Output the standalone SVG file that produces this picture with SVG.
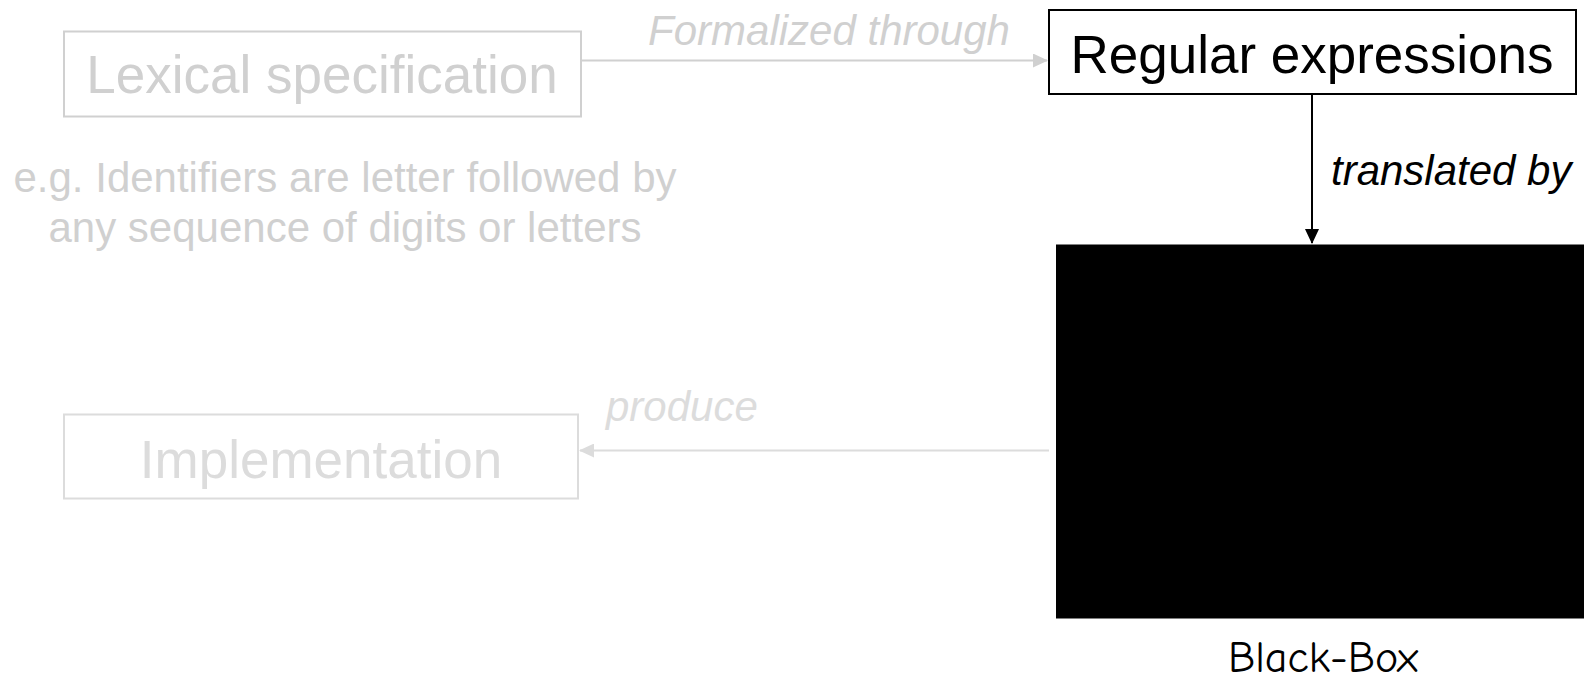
<svg xmlns="http://www.w3.org/2000/svg" width="1584" height="680" viewBox="0 0 1584 680">
  <style>
    .box { fill: #ffffff; stroke-width: 2; }
    .label { font-family: "Liberation Sans", Arial, sans-serif; font-size: 53px; text-anchor: middle; }
    .edge-label { font-family: "Liberation Sans", Arial, sans-serif; font-size: 42px; font-style: italic; }
    .note { font-family: "Liberation Sans", Arial, sans-serif; font-size: 42px; text-anchor: middle; fill: #d0d0d0; }
    .faded { stroke: #d0d0d0; }
    .faded-text { fill: #d0d0d0; }
    .fainter { stroke: #dcdcdc; }
    .fainter-text { fill: #dcdcdc; }
  </style>
  <defs>
    <marker id="arrow-gray" markerWidth="15" markerHeight="14" refX="14" refY="7" orient="auto" markerUnits="userSpaceOnUse">
      <path d="M0,0 L15,7 L0,14 Z" fill="#d0d0d0"/>
    </marker>
    <marker id="arrow-light" markerWidth="15" markerHeight="14" refX="14" refY="7" orient="auto" markerUnits="userSpaceOnUse">
      <path d="M0,0 L15,7 L0,14 Z" fill="#dcdcdc"/>
    </marker>
    <marker id="arrow-black" markerWidth="15" markerHeight="14" refX="14" refY="7" orient="auto" markerUnits="userSpaceOnUse">
      <path d="M0,0 L15,7 L0,14 Z" fill="#000000"/>
    </marker>
  </defs>

  <rect width="1584" height="680" fill="#ffffff"/>

  <!-- connectors -->
  <g id="connectors">
    <line x1="581" y1="60.5" x2="1047" y2="60.5" stroke="#d0d0d0" stroke-width="2" marker-end="url(#arrow-gray)"/>
    <text class="edge-label faded-text" x="829" y="45" text-anchor="middle">Formalized through</text>

    <line x1="1312" y1="94" x2="1312" y2="243" stroke="#000000" stroke-width="2" marker-end="url(#arrow-black)"/>
    <text class="edge-label" x="1331" y="185" fill="#000000">translated by</text>

    <line x1="1049" y1="450.5" x2="580" y2="450.5" stroke="#dcdcdc" stroke-width="2" marker-end="url(#arrow-light)"/>
    <text class="edge-label fainter-text" x="606" y="421">produce</text>
  </g>

  <!-- lexical specification -->
  <g id="lexical-spec">
    <rect class="box faded" x="64" y="31.5" width="517" height="85"/>
    <text class="label faded-text" x="322" y="93">Lexical specification</text>
  </g>

  <!-- example note -->
  <g id="example-note">
    <text class="note" x="345" y="192">e.g. Identifiers are letter followed by</text>
    <text class="note" x="345" y="242">any sequence of digits or letters</text>
  </g>

  <!-- regular expressions -->
  <g id="regular-expressions">
    <rect class="box" stroke="#000000" x="1049" y="10" width="527" height="84"/>
    <text class="label" x="1312" y="73" fill="#000000">Regular expressions</text>
  </g>

  <!-- black box -->
  <g id="black-box">
    <rect x="1056" y="244.5" width="528" height="374" fill="#000000"/>
    <text x="1323" y="672" font-family="'Comic Sans MS', 'Comic Neue', 'DejaVu Sans', sans-serif" font-size="44" text-anchor="middle" fill="#000000">Black-Box</text>
  </g>

  <!-- implementation -->
  <g id="implementation">
    <rect class="box fainter" x="64" y="414.5" width="514" height="84"/>
    <text class="label fainter-text" x="321" y="478">Implementation</text>
  </g>
</svg>
